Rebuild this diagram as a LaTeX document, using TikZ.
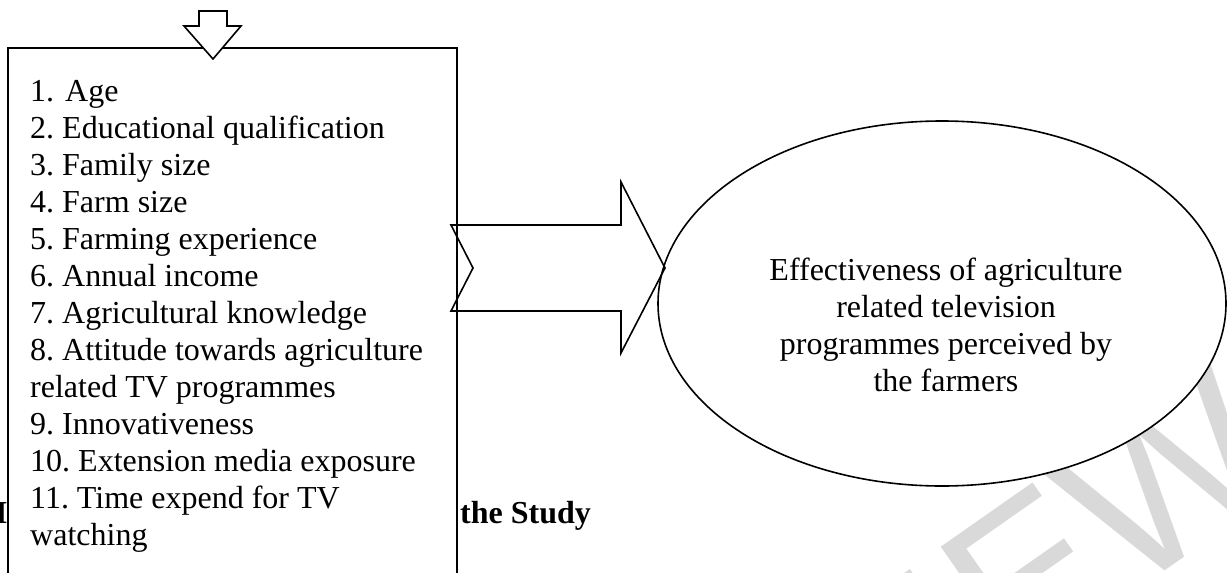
\documentclass[tikz,border=0pt]{standalone}
\usepackage{fontspec}
\usetikzlibrary{shapes.geometric}
\setmainfont{Liberation Serif}
\newfontfamily\wmfont{Liberation Sans}
\frenchspacing
\tikzset{
  lineitem/.style={anchor=base west, inner sep=0pt, font=\fontsize{32}{37}\selectfont},
  elltext/.style={anchor=base, inner sep=0pt, font=\fontsize{32}{37}\selectfont},
  shapeline/.style={draw=black, line width=1.6pt, line join=miter},
}
\begin{document}
\begin{tikzpicture}[x=1pt, y=-1pt]
\useasboundingbox (0,0) rectangle (1227,573);
\clip (0,0) rectangle (1227,573);
% watermark
\node[anchor=base east, rotate=35, inner sep=0pt, text=black!15,
      font=\wmfont\fontsize{215}{215}\selectfont] (wm) at (1295,480) {REVIEW};
% hidden caption fragment
\node[anchor=base west, inner sep=0pt, font=\bfseries\fontsize{32}{37}\selectfont] (capl) at (-5,523) {I};
% box
\path[shapeline, fill=white] (8,590) -- (8,48) -- (457,48) -- (457,590);
% list
\foreach \t [count=\i] in {1.\kern3pt\ Age, 2. Educational qualification, 3. Family size,
  4. Farm size, 5. Farming experience, 6. Annual income,
  7. Agricultural knowledge, 8. Attitude towards agriculture,
  related TV programmes, 9. Innovativeness, 10. Extension media exposure,
  11. Time expend for TV, watching}
  \node[lineitem] (l\i) at (30,{101+37*(\i-1)}) {\t};
% top arrow
\path[shapeline, fill=white] (199,11) -- (227,11) -- (227,26) -- (241,26)
  -- (213,59) -- (184,26) -- (199,26) -- cycle;
% caption visible part
\node[anchor=base west, inner sep=0pt, font=\bfseries\fontsize{32}{37}\selectfont] (cap) at (460,523) {the Study};
% ellipse
\node[ellipse, shapeline, fill=white, inner sep=0pt, minimum width=568pt,
      minimum height=365pt] (ell) at (942,303.5) {};
\node[elltext] (e1) at (946,280) {Effectiveness of agriculture};
\node[elltext] (e2) at (946,317) {related television};
\node[elltext] (e3) at (946,354) {programmes perceived by};
\node[elltext] (e4) at (946,391) {the farmers};
% notched arrow
\path[shapeline] (451,225) -- (621,225) -- (621,182) -- (665,268) -- (621,353)
  -- (621,311) -- (451,311) -- (473,268) -- cycle;
\end{tikzpicture}
\end{document}
